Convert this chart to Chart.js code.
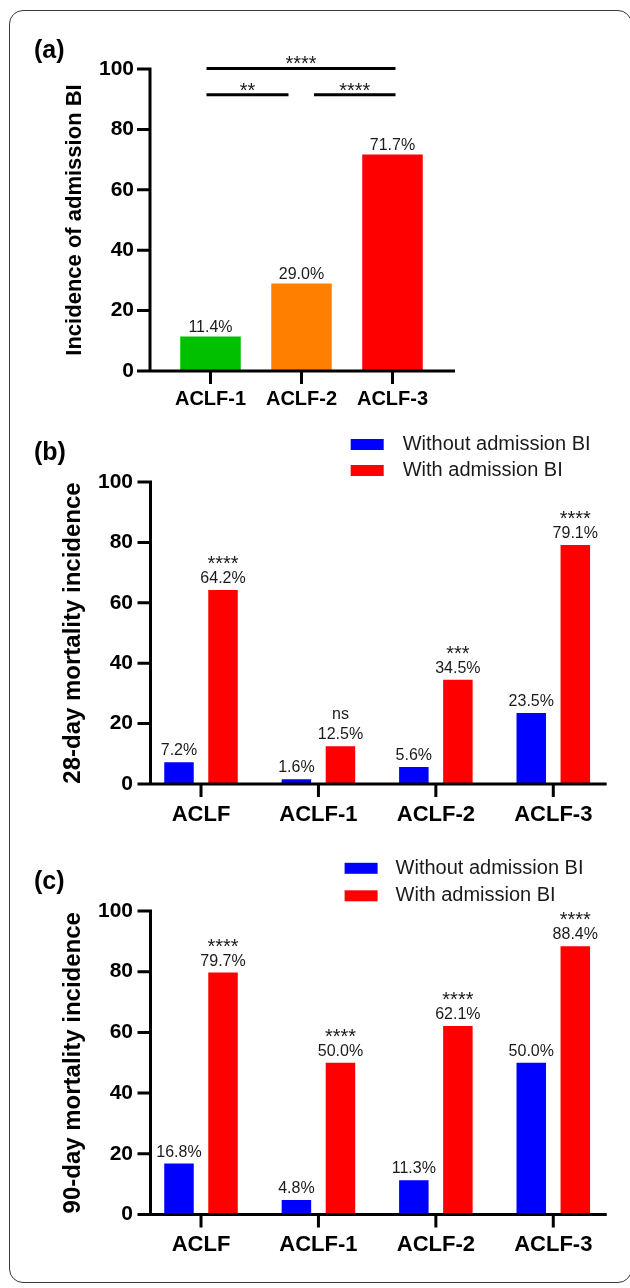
<!DOCTYPE html>
<html>
<head>
<meta charset="utf-8">
<script src="https://cdn.jsdelivr.net/npm/chart.js@4.4.1/dist/chart.umd.min.js"></script>
<style>
  html, body { margin: 0; padding: 0; background: #fff; }
  body { width: 630px; height: 1288px; position: relative; overflow: hidden; }
  .frame { position: absolute; left: 9px; top: 10px; width: 623px; height: 1273px; border: 1.5px solid #3a3a3a; border-radius: 14px; box-sizing: border-box; }
  canvas { position: absolute; left: 0; }
</style>
</head>
<body>
<div class="frame"></div>
<canvas id="chartA" width="630" height="420" style="top:0"></canvas>
<canvas id="chartB" width="630" height="420" style="top:420px"></canvas>
<canvas id="chartC" width="630" height="448" style="top:840px"></canvas>
<script>
// Data
const gradeLabels = ['ACLF-1', 'ACLF-2', 'ACLF-3'];
const admissionBI = [11.4, 29.0, 71.7];
const gradeColors = ['#00C000', '#FF8000', '#FF0000'];

const groupLabels = ['ACLF', 'ACLF-1', 'ACLF-2', 'ACLF-3'];
const seriesNames = ['Without admission BI', 'With admission BI'];
const mort28Without = [7.2, 1.6, 5.6, 23.5];
const mort28With = [64.2, 12.5, 34.5, 79.1];
const mort28Sig = ['****', 'ns', '***', '****'];
const mort90Without = [16.8, 4.8, 11.3, 50.0];
const mort90With = [79.7, 50.0, 62.1, 88.4];
const mort90Sig = ['****', '****', '****', '****'];

const yTicks = [0, 20, 40, 60, 80, 100];

const FONT = "'Liberation Sans', Arial, Helvetica, sans-serif";
Chart.defaults.font.family = FONT;
Chart.defaults.color = '#000';

// Draws axes, value labels, significance marks, legend and panel letter
const figurePlugin = {
  id: 'figure',
  afterDraw(chart, args, opts) {
    const { ctx, chartArea: ca, scales: { x, y } } = chart;
    const axisX = ca.left + opts.axisGap;
    const xEnd = ca.right + opts.axisExtend;
    const base = y.getPixelForValue(0);
    const top = y.getPixelForValue(100);
    const tick = 13;

    ctx.save();
    ctx.strokeStyle = '#000';
    ctx.lineWidth = 3;
    ctx.beginPath();
    ctx.moveTo(axisX, top - 1.5);
    ctx.lineTo(axisX, base);
    ctx.moveTo(axisX - tick, base);
    ctx.lineTo(xEnd, base);
    y.ticks.forEach(t => {
      const py = y.getPixelForValue(t.value);
      ctx.moveTo(axisX - tick, py);
      ctx.lineTo(axisX, py);
    });
    x.ticks.forEach((t, i) => {
      const px = x.getPixelForTick(i);
      ctx.moveTo(px, base);
      ctx.lineTo(px, base + tick);
    });
    ctx.stroke();

    // value labels + marks
    ctx.fillStyle = '#1a1a1a';
    ctx.textAlign = 'center';
    ctx.textBaseline = 'alphabetic';
    chart.data.datasets.forEach((ds, di) => {
      chart.getDatasetMeta(di).data.forEach((bar, i) => {
        const ty = bar.y - opts.labelGap;
        ctx.font = '16px ' + FONT;
        ctx.fillText(ds.data[i].toFixed(1) + '%', bar.x, ty);
        if (opts.marks && opts.marks.dataset === di) {
          const m = opts.marks.labels[i];
          if (m === 'ns') {
            ctx.font = '16px ' + FONT;
            ctx.fillText(m, bar.x, ty - 20);
          } else {
            ctx.font = '20px ' + FONT;
            ctx.fillText(m, bar.x, ty - 13);
          }
        }
      });
    });

    // comparison brackets
    (opts.brackets || []).forEach(b => {
      const ly = y.getPixelForValue(b.value);
      const x0 = x.getPixelForTick(b.from) + b.inset[0];
      const x1 = x.getPixelForTick(b.to) + b.inset[1];
      ctx.beginPath();
      ctx.moveTo(x0, ly);
      ctx.lineTo(x1, ly);
      ctx.stroke();
      ctx.font = '20px ' + FONT;
      ctx.fillText(b.text, (x0 + x1) / 2, ly + 2);
    });

    // legend
    if (opts.legend) {
      const lg = opts.legend;
      ctx.textAlign = 'left';
      ctx.textBaseline = 'middle';
      ctx.font = '20px ' + FONT;
      chart.data.datasets.forEach((ds, di) => {
        const cy = lg.y + di * lg.rowGap;
        ctx.fillStyle = ds.backgroundColor;
        ctx.fillRect(lg.x, cy - 5.5, 33, 11);
        ctx.fillStyle = '#1a1a1a';
        ctx.fillText(ds.label, lg.textX, cy);
      });
    }

    // panel letter
    ctx.fillStyle = '#000';
    ctx.textAlign = 'left';
    ctx.textBaseline = 'middle';
    ctx.font = 'bold 25px ' + FONT;
    ctx.fillText(opts.panel.text, opts.panel.x, opts.panel.y);
    ctx.restore();
  }
};

function yAxis(title, titleSize, titleX, width, labelPad) {
  return {
    min: 0,
    max: 100,
    afterBuildTicks: s => { s.ticks = yTicks.map(v => ({ value: v })); },
    ticks: { padding: labelPad, color: '#000', font: { size: 21, weight: 'bold' } },
    grid: { display: false, drawTicks: false },
    border: { display: false },
    title: {
      display: true, text: title, color: '#000',
      font: { size: titleSize, weight: 'bold' },
      padding: { top: titleX - titleSize * 0.6, bottom: 0 }
    },
    afterFit: s => { s.width = width; }
  };
}

function xAxis(size, pad, height) {
  return {
    offset: true,
    grid: { display: false, drawTicks: false },
    border: { display: false },
    ticks: { color: '#000', padding: pad, maxRotation: 0, autoSkip: false, font: { size: size, weight: 'bold' } },
    afterFit: s => { s.height = height; }
  };
}

const baseOpts = { responsive: false, animation: false, events: [] };

// (a) incidence of admission BI
new Chart(document.getElementById('chartA'), {
  type: 'bar',
  data: {
    labels: gradeLabels,
    datasets: [{ data: admissionBI, backgroundColor: gradeColors, categoryPercentage: 1, barPercentage: 0.665 }]
  },
  plugins: [figurePlugin],
  options: {
    ...baseOpts,
    layout: { padding: { top: 69, right: 192, left: 0, bottom: 0 } },
    plugins: {
      legend: { display: false },
      tooltip: { enabled: false },
      figure: {
        axisGap: -15, axisExtend: 17, labelGap: 4.5,
        panel: { text: '(a)', x: 34, y: 51 },
        brackets: [
          { from: 0, to: 2, value: 100.2, text: '****', inset: [-4, 3] },
          { from: 0, to: 1, value: 91.5, text: '**', inset: [-4, -13] },
          { from: 1, to: 2, value: 91.5, text: '****', inset: [12.5, 3] }
        ]
      }
    },
    scales: {
      x: xAxis(20, 16, 49),
      y: yAxis('Incidence of admission BI', 22, 75, 165, 31)
    }
  }
});

function mortalityChart(id, without, withBI, sig, letter, geo) {
  return new Chart(document.getElementById(id), {
    type: 'bar',
    data: {
      labels: groupLabels,
      datasets: [
        { label: seriesNames[0], data: without, backgroundColor: '#0000FF', categoryPercentage: 0.75, barPercentage: 0.67 },
        { label: seriesNames[1], data: withBI, backgroundColor: '#FF0000', categoryPercentage: 0.75, barPercentage: 0.67 }
      ]
    },
    plugins: [figurePlugin],
    options: {
      ...baseOpts,
      layout: { padding: { top: geo.top, right: 18, left: 0, bottom: 0 } },
      plugins: {
        legend: { display: false },
        tooltip: { enabled: false },
        figure: {
          axisGap: 8.2, axisExtend: -5.3, labelGap: 7,
          panel: { text: letter, x: 34, y: geo.panelY },
          marks: { dataset: 1, labels: sig },
          legend: geo.legend
        }
      },
      scales: {
        x: xAxis(22, geo.xPad, geo.xHeight),
        y: yAxis(geo.title, 24, 73.5, 142.3, 9.3)
      }
    }
  });
}

// (b) 28-day mortality
mortalityChart('chartB', mort28Without, mort28With, mort28Sig, '(b)', {
  top: 62, xHeight: 56, xPad: 17.8, panelY: 33.5,
  title: '28-day mortality incidence',
  legend: { x: 350.7, y: 24.5, rowGap: 26, textX: 402.7 }
});

// (c) 90-day mortality
mortalityChart('chartC', mort90Without, mort90With, mort90Sig, '(c)', {
  top: 71, xHeight: 73.5, xPad: 17.3, panelY: 41.7,
  title: '90-day mortality incidence',
  legend: { x: 344.6, y: 28.3, rowGap: 27.5, textX: 395.6 }
});
</script>
</body>
</html>
